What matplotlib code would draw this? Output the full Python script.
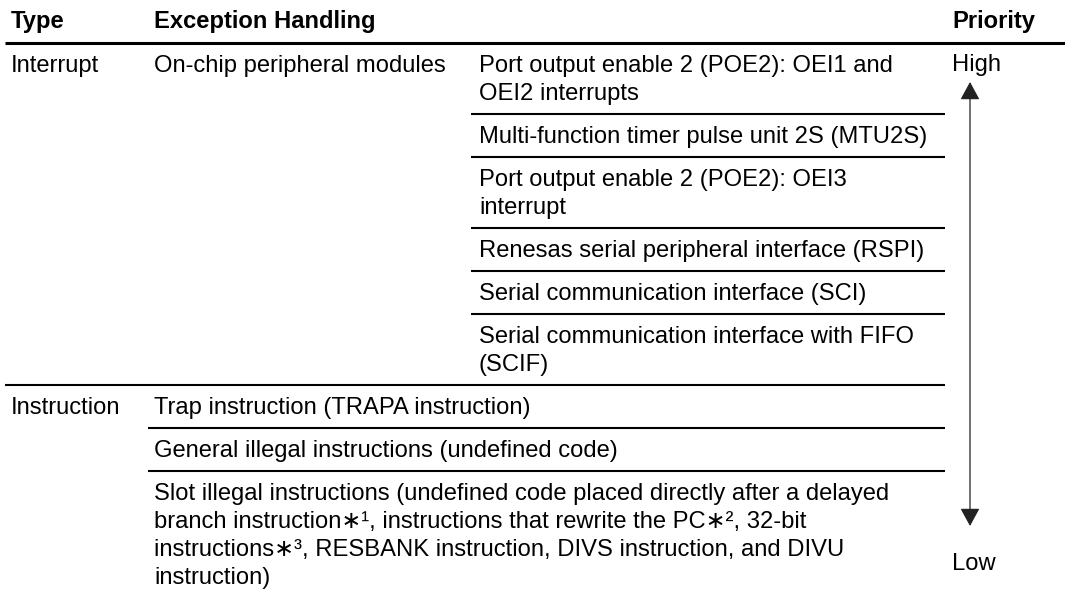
"""Exception handling priority table, redrawn with matplotlib"""
import matplotlib
matplotlib.use('Agg')
import matplotlib.pyplot as plt

# table content
headers = ['Type', 'Exception Handling', 'Priority']
types = ['Interrupt', 'Instruction']
interrupt_group = 'On-chip peripheral modules'
interrupt_sources = [
    ['Port output enable 2 (POE2): OEI1 and', 'OEI2 interrupts'],
    ['Multi-function timer pulse unit 2S (MTU2S)'],
    ['Port output enable 2 (POE2): OEI3', 'interrupt'],
    ['Renesas serial peripheral interface (RSPI)'],
    ['Serial communication interface (SCI)'],
    ['Serial communication interface with FIFO', '(SCIF)'],
]
instruction_sources = [
    ['Trap instruction (TRAPA instruction)'],
    ['General illegal instructions (undefined code)'],
    ['Slot illegal instructions (undefined code placed directly after a delayed',
     'branch instruction\u2217\u00b9, instructions that rewrite the PC\u2217\u00b2, 32-bit',
     'instructions\u2217\u00b3, RESBANK instruction, DIVS instruction, and DIVU',
     'instruction)'],
]
priority_labels = ['High', 'Low']

# layout (pixels)
W, H = 1065, 598
X_TYPE, X_HANDLING, X_SOURCE, X_PRIO = 11, 154, 479, 952
HEADER_RULE = 42.5
PITCH = 28       # line to line
PAD = 15         # extra height per row
BASE = 29.5      # row top to first baseline
FS = 17.1        # points at 100 dpi
FONT = ['Liberation Sans', 'DejaVu Sans']

fig = plt.figure(figsize=(W / 100, H / 100), dpi=100)
ax = fig.add_axes([0, 0, 1, 1])
ax.set_xlim(0, W)
ax.set_ylim(H, 0)
ax.axis('off')


def put(x, y, s, bold=False):
    ax.text(x, y, s, fontsize=FS, family=FONT, va='baseline', ha='left',
            fontweight='bold' if bold else 'normal', color='black')


def put_lines(x, top, lines):
    for i, line in enumerate(lines):
        put(x, top + BASE + i * PITCH, line)


# header
for x, label in zip([X_TYPE, X_HANDLING, X_PRIO], headers):
    put(x, 28, label, bold=True)
ax.hlines(HEADER_RULE, 5, W, color='black', lw=2.2)

# interrupt section
top = HEADER_RULE
put_lines(X_TYPE, top, [types[0]])
put_lines(X_HANDLING, top, [interrupt_group])
for i, src in enumerate(interrupt_sources):
    put_lines(X_SOURCE, top, src)
    top += PITCH * len(src) + PAD
    if i < len(interrupt_sources) - 1:
        ax.hlines(top, X_SOURCE - 8, 945, color='black', lw=1.5)
ax.hlines(top, 5, 945, color='black', lw=1.5)

# instruction section
put_lines(X_TYPE, top, [types[1]])
for i, src in enumerate(instruction_sources):
    put_lines(X_HANDLING, top, src)
    top += PITCH * len(src) + PAD
    if i < len(instruction_sources) - 1:
        ax.hlines(top, X_HANDLING - 6, 945, color='black', lw=1.5)

# priority arrow
put(X_PRIO, 71.5, priority_labels[0])
put(X_PRIO, 570, priority_labels[1])
ax.annotate('', xy=(970, 82), xytext=(970, 526),
            arrowprops=dict(arrowstyle='<|-|>,head_length=1.1,head_width=0.6',
                            lw=0.9, color='#222222', shrinkA=0, shrinkB=0,
                            mutation_scale=10))

fig.savefig('out.png', dpi=100)
